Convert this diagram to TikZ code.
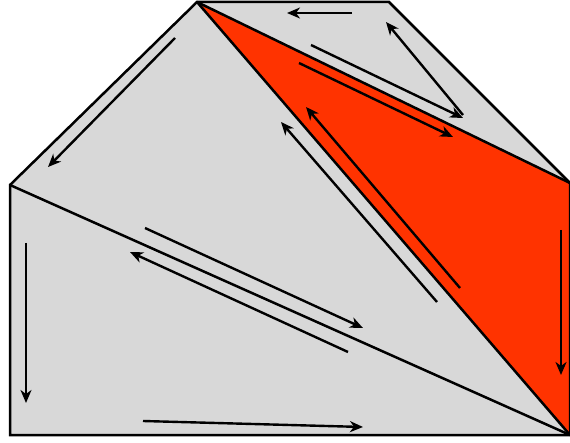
\documentclass[tikz,border=0pt]{standalone}
\usetikzlibrary{arrows.meta}
\definecolor{panel}{RGB}{216,216,216}
\definecolor{hot}{RGB}{255,51,0}
\begin{document}
\begin{tikzpicture}[x=1pt,y=-1pt,
  edge/.style={line width=2.5pt, line join=miter},
  flow/.style={line width=2.4pt, -{Stealth[length=13pt,width=11pt,inset=4pt]}}]
\useasboundingbox (0,0) rectangle (570,443);
\coordinate (A) at (10,185);
\coordinate (B) at (197,2);
\coordinate (C) at (389,2);
\coordinate (D) at (570,183);
\coordinate (E) at (570,435);
\coordinate (F) at (10,435);
\fill[panel] (A)--(B)--(C)--(D)--(E)--(F)--cycle;
\fill[hot] (B)--(D)--(E)--cycle;
\draw[edge] (A)--(B)--(C)--(D)--(E)--(F)--cycle;
\draw[edge] (B)--(D);
\draw[edge] (B)--(E);
\draw[edge] (A)--(E);
% arrows
\coordinate (a1s) at (352,13);  \coordinate (a1e) at (287,13);
\coordinate (a2s) at (463,115); \coordinate (a2e) at (386,22);
\coordinate (a3s) at (175,38);  \coordinate (a3e) at (48,167);
\coordinate (a4s) at (26,243);  \coordinate (a4e) at (26,403);
\coordinate (a5s) at (143,421); \coordinate (a5e) at (363,427);
\coordinate (a6s) at (561,230); \coordinate (a6e) at (561,375);
\coordinate (a7s) at (145,228); \coordinate (a7e) at (363,328);
\coordinate (a8s) at (348,352); \coordinate (a8e) at (130,252);
\coordinate (a9s) at (311,45);  \coordinate (a9e) at (463,118);
\coordinate (a10s) at (299,63); \coordinate (a10e) at (453,137);
\coordinate (a11s) at (437,302); \coordinate (a11e) at (281,122);
\coordinate (a12s) at (460,288); \coordinate (a12e) at (306,107);
\foreach \i in {1,...,12} \draw[flow] (a\i s) -- (a\i e);
\end{tikzpicture}
\end{document}
